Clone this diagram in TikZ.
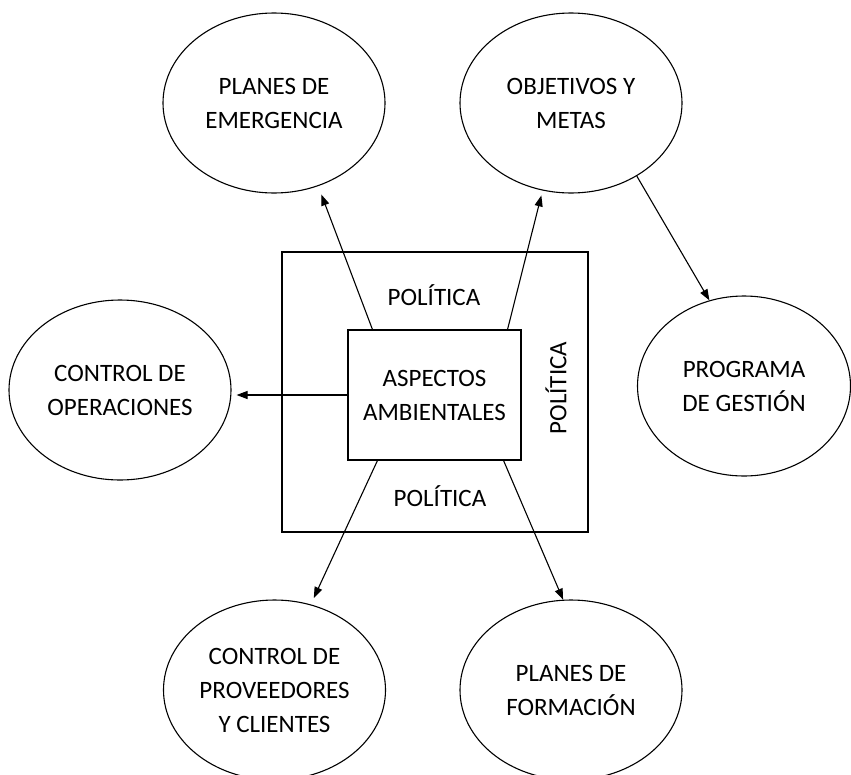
\documentclass[tikz,border=0pt]{standalone}
\usepackage{fontspec}
\setmainfont{Carlito}
\usetikzlibrary{shapes.geometric,arrows.meta}

\begin{document}
\begin{tikzpicture}[x=1pt,y=-1pt,>={Triangle[length=11pt,width=8pt]},line width=1.1pt,
  font=\fontsize{25}{34}\selectfont,
  burbuja/.style={draw, ellipse, align=center, minimum width=222pt, minimum height=180pt}]
\useasboundingbox (0,0) rectangle (851,774);
\node[draw, rectangle, minimum width=306pt, minimum height=280pt] (marco) at (435,392) {};
\node[draw, rectangle, align=center, minimum width=173pt, minimum height=130pt] (asp) at (434.5,395) {ASPECTOS\\AMBIENTALES};
\node (poltop) at (434,295) {POLÍTICA};
\node (polbot) at (440,496) {POLÍTICA};
\node[rotate=90] (polder) at (556,388) {POLÍTICA};

\node[burbuja] (emer) at (274,103) {PLANES DE\\EMERGENCIA};
\node[burbuja] (obj) at (571,103) {OBJETIVOS Y\\METAS};
\node[burbuja] (oper) at (120,390) {CONTROL DE\\OPERACIONES};
\node[burbuja, minimum width=213pt] (prog) at (744,386) {PROGRAMA\\DE GESTIÓN};
\node[burbuja] (prov) at (274.5,690) {CONTROL DE\\PROVEEDORES\\Y CLIENTES};
\node[burbuja] (form) at (571,690) {PLANES DE\\FORMACIÓN};

\draw[->, shorten >=9pt] ([xshift=25pt]asp.north west) -- (emer.-62);
\draw[->, shorten >=5pt] ([xshift=-14pt]asp.north east) -- (obj.-108);
\draw[->, shorten >=5pt] (asp.west) -- (asp.west -| oper.east);
\draw[->] (obj.-48) -- (prog.112);
\draw[->, shorten >=7pt] ([xshift=30pt]asp.south west) -- (prov.67);
\draw[->] ([xshift=-18pt]asp.south east) -- (form.95);
\end{tikzpicture}
\end{document}
